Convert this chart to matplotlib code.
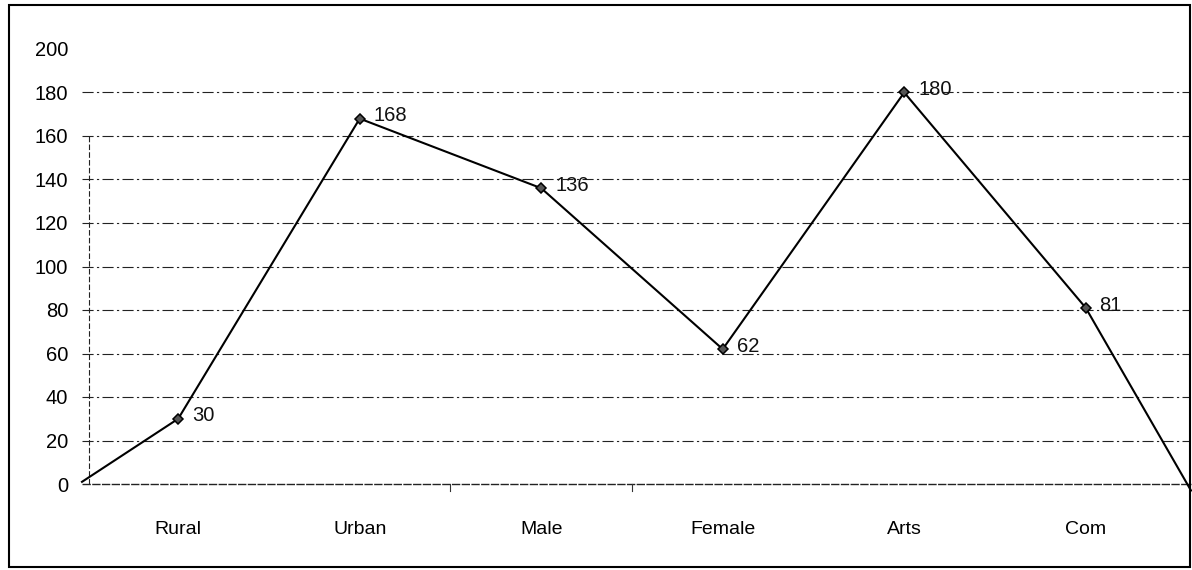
import matplotlib
matplotlib.use('Agg')
import matplotlib.pyplot as plt
from matplotlib.patches import Rectangle

plt.rcParams['font.family'] = ['Liberation Sans', 'DejaVu Sans']

categories = ['Rural', 'Urban', 'Male', 'Female', 'Arts', 'Com']
values = [30, 168, 136, 62, 180, 81]
# the line runs on from the axis edge and off the right side
lead_value = 1
tail_value = -3
yticks = [0, 20, 40, 60, 80, 100, 120, 140, 160, 180, 200]

fig = plt.figure(figsize=(11.92, 5.70), dpi=100)
W, H = 1192, 570
ax = fig.add_axes([82 / W, 1 - 484 / H, (1191 - 82) / W, (484 - 49) / H])

x0, x1 = -0.53, 5.58
xs = [x0] + list(range(len(categories))) + [x1]
ys = [lead_value] + values + [tail_value]
ax.plot(xs, ys, color='black', lw=1.5, clip_on=False, zorder=3)
ax.plot(range(len(categories)), values, ls='none', marker='D', ms=5.5,
        mfc='#555555', mec='black', mew=1.1, zorder=4)
for i, v in enumerate(values):
    ax.annotate(str(v), (i, v), xytext=(10, 2), textcoords='offset points',
                ha='left', va='center', fontsize=14.5, color='#111111')

ax.set_xlim(x0, x1)
ax.set_ylim(0, 200)
ax.set_yticks(yticks)
ax.set_yticklabels([str(t) for t in yticks], fontsize=14.5)
ax.set_xticks(range(len(categories)))
ax.set_xticklabels(categories, fontsize=14)
ax.tick_params(axis='x', length=0, pad=27)
ax.tick_params(axis='y', length=0, pad=10)

for t in yticks[1:-1]:
    ax.axhline(t, color='#222222', lw=0.8, ls=(0, (10, 3, 2, 3)), zorder=1)
ax.axhline(0, color='#222222', lw=1.0, ls=(0, (6, 1)), zorder=1, clip_on=False)
ax.axvline(-0.49, ymin=0, ymax=0.8, color='#222222', lw=0.8, ls=(0, (5, 2)), zorder=1)
# small marks between categories on the base line
for b in [1.5, 2.5]:
    ax.plot([b, b], [0, -3], color='#333333', lw=0.8, clip_on=False)

for s in ax.spines.values():
    s.set_visible(False)

fig.patches.append(Rectangle((9 / W, 1 - 567 / H), (1190 - 9) / W, (567 - 5) / H,
                             transform=fig.transFigure, fill=False,
                             edgecolor='black', lw=1.5))

fig.savefig('out.png', dpi=100)
